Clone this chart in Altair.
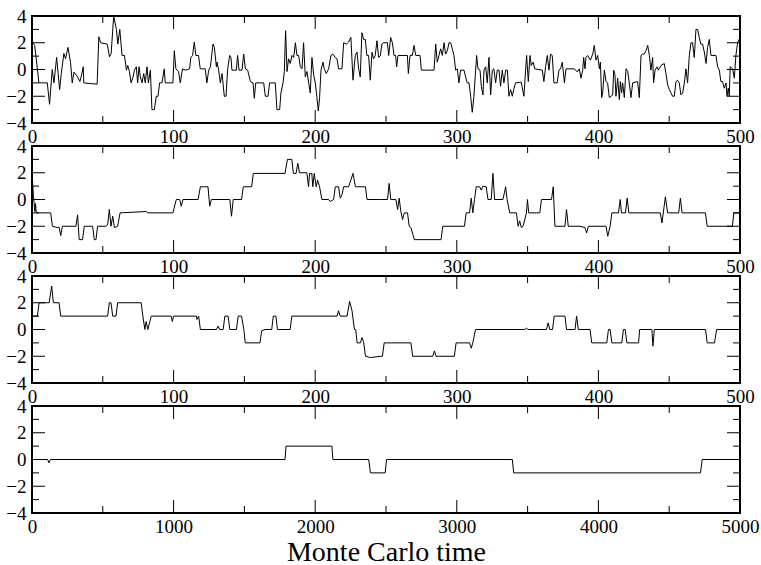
import altair as alt
import pandas as pd

FONT = "Liberation Serif, Times New Roman, serif"
W, H = 708, 107

# ---------------- data ----------------
# Panel 1 (t, value) — four segments
p1a = [(0, 2.1), (1.9, 1.8), (4.9, -1), (10.8, -1), (12.4, -2.6), (14.3, 0), (15.5, -1), (17.4, 0.9), (19.5, -1.5), (20.7, -0.3),
       (22.5, 1.2), (23.7, 0.8), (25.4, 1.65), (27.2, 0.55), (28.4, -1), (29.6, -0.2), (31.9, -0.5), (33.8, -0.9), (34.7, -0.55), (36.2, 0.2),
       (36.6, -1), (46.0, -1.1), (47.2, 2.45), (48.4, 2.0), (53.1, 1.9), (54.7, 0.95), (55.9, 1.2), (57.7, 4.0), (59.6, 3.0), (60.6, 1.9),
       (62.0, 3.0), (63.6, 1.05), (65.3, 1.05), (66.7, -0.05), (67.6, 0.3), (68.8, -0.15), (70.0, -1), (71.4, -0.55), (72.3, -0.05), (73.7, 0.2),
       (74.6, -1), (75.6, 0.2), (76.5, -0.55), (77.7, -1), (78.9, -0.3), (80.0, -1), (81.2, 0.2), (82.2, -1), (83.6, -0.05), (84.7, -3),
       (86.4, -3), (87.8, -2), (89.0, -2), (90.1, -1), (91.8, -1), (93.4, 0.05), (94.1, -1), (99.5, -1), (100.5, 1.4), (101.6, 0.05),
       (103.5, -0.15), (104.7, -1), (106.3, 0.05), (108.2, -0.05), (111.3, 0.05), (112.2, 0.9), (113.4, 1.05), (114.6, 2.05), (115.7, 1.05), (117.6, 1.05),
       (118.8, 0.05), (122.3, 0.05), (123.5, -1)]
p1b = [(124.8, -0.05), (126.0, 0.2), (127.8, 1.9), (128.8, 1.65), (130.2, 0.2), (130.7, 0.55), (131.8, -0.05), (133.0, -1), (134.2, -0.3), (135.8, -2),
       (137.0, -2), (138.2, 0.05), (139.6, 1.05), (140.5, 0.9), (141.2, -0.05), (144.3, -0.05), (145.2, 1.05), (146.2, -0.05), (148.3, -0.05), (149.5, 1.15),
       (150.7, 0.05), (152.3, -0.05), (154.2, -0.9), (156.1, -1), (157.0, -2.15), (158.0, -1), (163.6, -1), (164.8, -2), (166.7, -2), (167.8, -1),
       (171.8, -1), (173.0, -3), (174.9, -3), (175.8, -1.75), (177.3, -1), (178.2, -0.15), (179.1, 2.9), (180.1, -0.15), (181.2, 0.8), (182.4, 0.45),
       (183.6, 1.05), (184.8, 0.9), (186.0, 2.0), (187.1, 1.05), (188.3, 1.05), (189.5, 0.2), (190.7, 0.05), (191.8, 2.0), (193.0, -0.55), (194.2, -0.15),
       (195.4, -1), (196.5, -1.75), (197.7, 0.9), (198.9, -0.4), (200.1, -1), (201.2, -2.1), (202.2, -3.1), (203.1, -2.1), (204.1, -0.05), (205.5, 0.55),
       (206.4, 0.05), (207.8, -0.3), (209.5, 0.05), (211.1, 1.05), (212.5, 1.15), (214.2, 0.9), (215.4, 0.8), (216.5, 0.05), (218.9, 0.05), (220.1, 2.0),
       (222.0, 1.9), (223.6, 2.05), (225.2, 2.4), (226.7, -0.8), (228.3, 1.05), (229.5, 1.3), (230.7, 0.05), (231.8, -0.55), (233.0, 2.75), (234.2, 2.25),
       (235.4, 2.25), (236.5, 1.05), (237.7, 1.05), (238.9, -0.8), (240.1, 1.3), (241.2, 0.8), (242.4, 1.05), (243.6, 2.15), (244.8, 0.9), (246.0, 1.05),
       (247.1, 1.9), (248.3, 2.0)]
p1c = [(251.0, 2.0), (251.9, 1.05), (253.3, 2.4), (254.5, 2.0), (255.7, 1.05), (256.8, 1.05), (257.5, 0.2), (258.5, 1.05), (265.1, 1.05), (265.8, -0.3),
       (267.0, 1.05), (268.6, 1.05), (269.8, 1.8), (271.0, 1.05), (274.0, 1.05), (275.0, -0.05), (283.9, -0.05), (285.1, 1.9), (286.2, 0.55), (287.4, 1.05),
       (288.6, 1.55), (289.8, 1.05), (291.0, 2.0), (292.1, 1.15), (293.3, 1.4), (294.5, 2.0), (295.7, 2.0), (296.8, 1.55), (298.0, 1.05), (299.2, -0.05),
       (300.4, 0.05), (301.5, -1), (302.7, -0.05), (305.1, -0.05), (306.2, -0.55), (307.4, -1), (308.6, -1), (309.8, -2), (310.9, -3.2), (312.1, -2),
       (313.3, -0.05), (314.0, 1.05), (315.0, 0.05), (316.4, -0.05), (317.3, -1.25), (318.5, -1.9), (319.2, -0.05), (320.4, 0.2), (321.5, -1), (322.7, 0.9),
       (323.9, -1.9), (325.1, -0.05), (326.2, 0.05), (327.4, -1), (328.6, -0.05), (329.8, -0.05), (330.9, -1.25), (332.1, -0.05), (333.3, -1), (334.5, -0.05),
       (335.7, -0.05), (336.8, -2), (338.0, -1.5), (339.2, -2), (340.4, -1.4), (341.5, -1), (345.5, -0.95), (347.4, -2), (348.6, -0.05), (349.3, 1.05),
       (350.5, -0.9), (351.7, 1.05), (352.6, 0.3), (354.0, 0.55), (355.0, 0.05), (360.4, -0.05), (361.5, -0.9), (362.7, 0.2), (363.9, 1.05), (365.1, -0.05),
       (366.2, 1.15), (367.4, 1.05), (368.6, -1), (370.9, -1), (372.1, -0.05), (373.3, 0.05), (374.5, 0.55)]
p1d = [(376.0, -1), (377.1, 0.05), (383.0, 0.05), (384.2, -0.1), (385.4, -0.15), (386.5, 0.05), (387.7, -0.65), (388.9, -0.05), (389.6, 0.9), (390.5, 0.05),
       (391.2, 0.9), (392.4, 1.05), (394.3, 0.7), (396.0, 1.15), (397.1, 1.8), (398.3, 0.7), (399.5, 1.05), (400.7, 0.05), (401.4, 0.55), (402.3, -2.1),
       (403.0, -1.75), (404.2, -0.05), (405.4, -0.9), (406.5, -1), (407.7, -2.1), (408.9, -2), (410.1, -1.9), (410.8, -0.05), (411.7, -0.4), (412.4, -2),
       (413.6, -0.65), (414.8, -2.25), (415.5, -0.9), (416.4, -1.75), (417.1, -1), (418.3, -2.1), (419.5, 0.05), (420.7, -0.15), (421.8, -1), (423.0, -2.1),
       (424.2, -1), (427.7, -0.9), (428.9, -2.1), (430.1, 1.05), (431.2, 1.15), (432.4, 1.15), (433.6, 1.4), (434.8, 1.8), (436.0, 1.05), (437.1, -0.05),
       (438.3, 0.9), (439.0, -1), (440.0, -0.05), (441.4, 0.2), (442.3, -0.05), (444.2, 0.3), (446.5, 0.45), (447.7, -0.3), (448.9, -1.15), (450.1, -1.5),
       (451.2, -1.75), (452.4, -2), (453.6, -2), (454.8, -0.9), (455.9, -0.8), (457.1, -1), (458.3, -1.9), (459.5, -1.75), (460.7, -1), (461.8, 0.05),
       (463.0, -1), (464.2, 1.05), (465.4, 2.0), (466.5, 2.0), (467.7, 0.9), (468.9, 3.0), (470.1, 3.0), (471.2, 2.4), (472.4, 1.9), (473.6, 1.9),
       (474.8, 1.3), (476.0, 0.45), (477.1, 1.65), (478.3, 2.25), (479.5, 1.05), (483.0, 1.05), (484.2, 0.2), (485.4, -0.05), (486.5, -0.9), (487.7, -0.9),
       (488.9, -1.4), (490.1, -1), (490.8, -2), (491.7, -1.4), (492.4, -2), (493.1, 0.2), (494.8, 0.05), (496.0, -0.65), (497.1, 1.05), (498.3, 2.0),
       (500, 2.4)]

# Panel 2
p2a = [(0, 2.0), (1, 0.3), (2, -0.9), (2.5, -0.3), (3, -1), (13.2, -1), (14.4, -2), (18.0, -2.1), (19.1, -2.05), (20.3, -2.7),
       (21.5, -2), (31.0, -2), (32.2, -1.15), (33.3, -3), (35.7, -3), (36.9, -2), (42.8, -2), (44.0, -3), (45.2, -3), (46.3, -2),
       (52.2, -2), (53.4, -1.9), (54.6, -0.75), (55.8, -2), (57.0, -1.25), (58.2, -2.1), (60.5, -2), (62.2, -1), (80.6, -0.9), (81.8, -1),
       (99.5, -1), (101.9, 0), (104.3, 0), (105.4, -0.5), (106.6, 0), (117.3, 0), (118.9, 0.95), (124.3, 0.95), (125.5, -0.5), (126.7, 0),
       (139.7, 0), (140.9, -1.25), (142.1, 0), (148.0, 0), (149.2, 0.95), (155.1, 0.95), (156.3, 1.95), (178.7, 1.95), (180.4, 3.0), (183.5, 3.0),
       (184.6, 1.95), (186.5, 1.95), (187.7, 2.7), (188.9, 2.0), (194.1, 2.0), (195.3, 0.95), (196.0, 1.95), (197.6, 1.95), (198.3, 0.95), (199.3, 1.95),
       (200.7, 0.95), (201.7, 1.45), (203.1, 0.95), (204.7, 0), (209.5, 0), (210.6, -0.15), (213.0, 0), (214.2, 0.95), (216.5, 0.95), (217.7, 0.1),
       (218.9, 0.35), (220.1, 0.95), (223.6, 0.95), (226.7, 1.95), (228.4, 0.95), (235.5, 0.95), (236.6, 0), (246.1, 0)]
p2b = [(251.1, 0), (252.2, 1.2), (253.4, 0), (257.0, 0), (258.2, -0.75), (259.3, 0.1), (260.5, -0.9), (261.7, -1.5), (262.9, -1), (265.2, -1),
       (266.4, -2), (267.6, -2.1), (270.0, -3), (288.9, -3), (290.1, -2), (305.4, -2), (306.6, -1), (309.0, -1), (310.2, 0.1), (311.3, -1),
       (312.5, 0), (313.7, 0.95), (316.1, 0.95), (317.3, 0.7), (318.4, 1), (320.8, 0.95), (322.0, 0), (324.3, 0), (325.5, 1.95), (326.7, 0),
       (332.6, 0), (334.5, 0.95), (335.5, 0), (337.4, -1), (342.1, -1), (343.3, -2), (344.4, -1.6), (345.6, -2.1), (346.8, -2), (349.2, -1),
       (349.9, 0), (350.8, -1), (358.6, -1), (359.8, 0), (366.9, 0), (368.1, 0.95), (369.3, -2), (376.4, -2), (377.5, -0.75), (378.7, -2),
       (387.0, -2), (390.5, -2.1), (391.7, -2.5), (392.9, -2), (405.4, -2), (406.6, -2.75), (408.3, -2), (409.5, -1), (414.2, -1), (415.4, 0),
       (416.3, -1), (419.1, -1), (420.3, 0.1), (421.5, -1), (443.7, -1), (444.9, -1.75), (447.3, 0.2), (448.9, -1), (456.7, -1), (457.9, 0.1),
       (459.1, -1), (475.6, -1), (476.8, -2), (494.6, -2), (495.7, -1), (500, -1)]

# Panel 3
p3a = [(0, 1), (3.8, 1), (5.0, 2), (12.1, 2), (13.9, 3.25), (15.1, 2), (19.1, 2), (20.3, 1), (53.4, 1), (54.6, 2),
       (55.8, 2), (57.0, 1), (59.3, 1), (60.5, 2), (77.1, 2), (78.3, 1), (79.7, 0), (80.6, 0.6), (81.8, 0), (84.2, 1),
       (98.3, 1), (99.1, 0.6), (100, 1), (116.1, 1), (116.5, 0.75), (117.7, 1), (118.9, 0), (130.3, 0), (131.4, 0.25), (132.6, 0),
       (135.0, 0), (136.2, 1), (138.5, 1), (139.7, 0), (144.4, 0), (145.6, 1), (148.0, 1), (149.6, 0), (150.6, -1), (161.0, -1),
       (162.2, -0.1), (164.5, 0), (169.3, 0), (170.4, 1), (172.3, 1), (173.3, 0), (182.3, 0), (183.5, 1), (215.4, 1), (216.5, 1.4),
       (217.7, 1), (222.5, 1), (224.3, 2.1), (226.0, 1.4), (227.7, 0), (228.6, 0), (229.6, -1), (231.9, -1), (233.1, -0.6), (234.3, -1),
       (235.5, -2), (239.0, -2.1), (246.1, -2)]
p3b = [(247.5, -2), (248.7, -1), (267.6, -1), (268.8, -2), (283.0, -2), (284.2, -1.6), (285.3, -2), (298.3, -2), (299.5, -1), (309.0, -1),
       (310.2, -1.4), (311.3, -1), (313.2, 0), (348.0, 0), (349.2, 0.1), (350.4, 0), (363.4, 0), (364.5, 0.5), (365.7, 0), (367.6, 0),
       (368.8, 1), (376.4, 1), (377.5, 0), (383.5, 0), (384.6, 1), (385.8, 0), (394.1, 0), (395.3, -1), (405.9, -1), (407.1, 0),
       (408.3, 0), (409.5, -1), (416.5, -1), (417.7, 0), (418.9, 0), (420.1, -1), (428.4, -1), (429.1, 0), (437.8, 0), (438.5, -1.25),
       (439.5, 0), (475.7, 0), (476.8, -1), (482.0, -1), (483.5, 0), (500, 0)]

# Panel 4
p4 = [(0, 0), (110, 0), (120, -0.25), (130, 0), (1787, 0), (1794, 1), (2118, 1), (2125, 0), (2378, 0), (2390, -1),
      (2494, -1), (2504, 0), (3392, 0), (3402, -1), (4721, -1), (4733, 0), (5000, 0)]

# Axis ticks
x_major_500 = [0, 100, 200, 300, 400, 500]
x_minor_500 = [50, 150, 250, 350, 450]
x_major_5000 = [0, 1000, 2000, 3000, 4000, 5000]
x_minor_5000 = [500, 1500, 2500, 3500, 4500]
y_major = [-4, -2, 0, 2, 4]
y_minor = [-3, -1, 1, 3]
x_title = "Monte Carlo time"

MAJ, MIN = 13, 7


def panel(pts, xmax, xmajor, xminor, title=""):
    df = pd.DataFrame(pts, columns=["t", "v"])
    xs = alt.Scale(domain=[0, xmax], nice=False, zero=False)
    ys = alt.Scale(domain=[-4, 4], nice=False, zero=False)
    xaxis_kw = dict(values=xmajor, format="d", ticks=False, domain=False, grid=False,
                    labelFont=FONT, labelFontSize=19, labelColor="black", labelPadding=4,
                    labelFlush=False, labelOverlap=False)
    if title:
        xaxis_kw.update(title=title, titleFont=FONT, titleFontSize=28, titleFontWeight="normal",
                        titleColor="black", titlePadding=2)
    else:
        xaxis_kw.update(title=None)
    xaxis = alt.Axis(**xaxis_kw)
    yaxis = alt.Axis(values=y_major, ticks=False, domain=False, grid=False, title=None,
                     labelFont=FONT, labelFontSize=19, labelColor="black", labelPadding=6,
                     labelFlush=False, labelOverlap=False)
    line = alt.Chart(df).mark_line(color="black", strokeWidth=1, clip=True).encode(
        x=alt.X("t:Q", scale=xs, axis=xaxis),
        y=alt.Y("v:Q", scale=ys, axis=yaxis),
        order="t:Q",
    )
    layers = [line]
    for vals, ln in ((xmajor, MAJ), (xminor, MIN)):
        d = pd.DataFrame({"t": vals})
        layers.append(alt.Chart(d).mark_rule(color="black", strokeWidth=1).encode(
            x=alt.X("t:Q", scale=xs, axis=xaxis), y=alt.value(0), y2=alt.value(ln)))
        layers.append(alt.Chart(d).mark_rule(color="black", strokeWidth=1).encode(
            x=alt.X("t:Q", scale=xs, axis=xaxis), y=alt.value(H), y2=alt.value(H - ln)))
    for vals, ln in ((y_major, MAJ), (y_minor, MIN)):
        d = pd.DataFrame({"v": vals})
        layers.append(alt.Chart(d).mark_rule(color="black", strokeWidth=1).encode(
            y=alt.Y("v:Q", scale=ys, axis=yaxis), x=alt.value(0), x2=alt.value(ln)))
        layers.append(alt.Chart(d).mark_rule(color="black", strokeWidth=1).encode(
            y=alt.Y("v:Q", scale=ys, axis=yaxis), x=alt.value(W), x2=alt.value(W - ln)))
    return alt.layer(*layers).properties(width=W, height=H)


c1 = panel(p1a + p1b + p1c + p1d, 500, x_major_500, x_minor_500)
c2 = panel(p2a + p2b, 500, x_major_500, x_minor_500)
c3 = panel(p3a + p3b, 500, x_major_500, x_minor_500)
c4 = panel(p4, 5000, x_major_5000, x_minor_5000, title=x_title)

chart = alt.vconcat(c1, c2, c3, c4, spacing=23, bounds="flush").resolve_scale(
    x="independent", y="independent").properties(
    padding={"left": 4, "top": 6, "right": 0, "bottom": 0},
    background="white",
).configure_view(stroke="black", strokeWidth=2)

chart.save("out.html", embed_options={"renderer": "svg", "actions": False})
